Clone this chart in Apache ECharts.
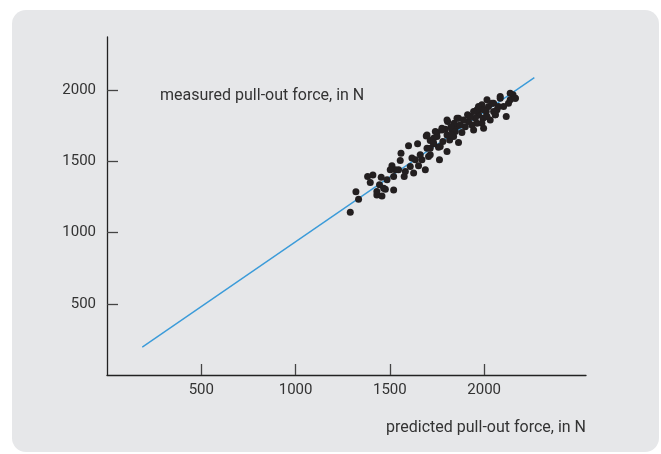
<!DOCTYPE html>
<html>
<head>
<meta charset="utf-8">
<script src="https://cdn.jsdelivr.net/npm/echarts@6/dist/echarts.min.js"></script>
<style>
  html, body { margin: 0; padding: 0; background: #fff; }
  #panel { position: absolute; left: 12px; top: 10px; width: 647px; height: 442px; background: #e6e7e9; border-radius: 14px; }
  #main { position: absolute; left: 0; top: 0; width: 661px; height: 454px; }
</style>
</head>
<body>
<div id="panel"></div>
<div id="main"></div>
<script>
// predicted vs measured pull-out force (N)
var predicted = [1290, 1334, 1320, 1382, 1410, 1396, 1454, 1445, 1431, 1458, 1476, 1520, 1520, 1511, 1555, 1559,
  1576, 1582, 1599, 1647, 1617, 1626, 1652, 1670, 1688, 1697, 1705, 1693, 1714, 1732, 1750, 1763, 1758, 1781,
  1794, 1806, 1817, 1829, 1838, 1856, 1864, 1864, 1882, 1900, 1917, 1926, 1944, 1962, 1970, 1979, 1994, 1997,
  2011, 2023, 2032, 2050, 2059, 2068, 2085, 2103, 2117, 2138, 2165, 2129, 1962, 1988, 1912, 1891, 1841, 1824,
  1803, 1776, 1732, 1714, 1661, 1635, 1608, 1546, 1529, 1502, 1467, 1431, 1485, 1803, 1750, 1847, 1935, 2015,
  2076, 2153, 1953, 1988, 2011, 2050,
  1697, 1741, 1776, 1803, 1856, 1873, 1926, 1944, 1970, 1997, 2041, 2085, 2138, 2165, 1732, 1767, 1829, 2015,
  2059, 1714];
var measured = [1143, 1234, 1286, 1393, 1403, 1351, 1388, 1335, 1264, 1257, 1304, 1299, 1393, 1468, 1505, 1557,
  1393, 1428, 1608, 1622, 1522, 1417, 1468, 1510, 1440, 1592, 1533, 1678, 1645, 1622, 1701, 1510, 1599, 1638,
  1725, 1779, 1650, 1720, 1673, 1748, 1802, 1631, 1701, 1743, 1779, 1814, 1720, 1767, 1826, 1865, 1802, 1732,
  1849, 1884, 1790, 1907, 1826, 1861, 1954, 1884, 1814, 1978, 1943, 1907, 1861, 1896, 1826, 1790, 1767, 1743,
  1685, 1720, 1662, 1592, 1545, 1510, 1463, 1440, 1440, 1440, 1311, 1288, 1370, 1568, 1673, 1708, 1755, 1931,
  1884, 1966, 1802, 1767, 1814, 1849,
  1685, 1708, 1732, 1790, 1802, 1755, 1814, 1849, 1884, 1861, 1907, 1943, 1931, 1943, 1627, 1603, 1685, 1814,
  1826, 1545];
var fitLine = [[187, 196], [2266, 2087]];
var tickValues = [500, 1000, 1500, 2000];

var points = predicted.map(function (x, i) {
  return [x, measured[i]]
});

var myChart = echarts.init(document.getElementById('main'));
var textColor = '#333';
var fontFamily = 'Roboto, "Noto Sans", sans-serif';
function plain(v) {
  return String(v)
}
var option = {
  animation: false,
  backgroundColor: 'transparent',
  grid: {
    left: 107,
    top: 37,
    width: 479,
    height: 338
  },
  xAxis: {
    type: 'value',
    min: 0,
    max: 2540,
    name: 'predicted pull-out force, in N',
    nameLocation: 'end',
    nameGap: 0,
    nameTextStyle: {
      color: textColor,
      fontSize: 16,
      fontFamily: fontFamily,
      align: 'right',
      verticalAlign: 'top',
      padding: [45, 0, 0, 0]
    },
    splitLine: { show: false },
    axisLine: {
      onZero: false,
      lineStyle: { color: '#222', width: 1.3 }
    },
    axisTick: {
      inside: true,
      length: 11,
      customValues: tickValues,
      lineStyle: { color: '#444', width: 1.3 }
    },
    axisLabel: {
      customValues: tickValues,
      formatter: plain,
      margin: 8,
      color: textColor,
      fontSize: 15,
      fontFamily: fontFamily
    }
  },
  yAxis: {
    type: 'value',
    min: 0,
    max: 2372,
    name: 'measured pull-out force, in N',
    nameLocation: 'end',
    nameGap: -59,
    nameTextStyle: {
      color: textColor,
      fontSize: 16,
      fontFamily: fontFamily,
      align: 'left',
      verticalAlign: 'middle',
      padding: [0, 0, 0, 53]
    },
    splitLine: { show: false },
    axisLine: {
      show: true,
      onZero: false,
      lineStyle: { color: '#222', width: 1.3 }
    },
    axisTick: {
      show: true,
      inside: true,
      length: 11,
      customValues: tickValues,
      lineStyle: { color: '#444', width: 1.3 }
    },
    axisLabel: {
      customValues: tickValues,
      formatter: plain,
      margin: 11,
      color: textColor,
      fontSize: 15,
      fontFamily: fontFamily
    }
  },
  series: [{
    type: 'line',
    data: fitLine,
    symbol: 'none',
    lineStyle: { color: '#3b9bd9', width: 1.4 },
    z: 2
  }, {
    type: 'scatter',
    data: points,
    symbolSize: 7,
    itemStyle: { color: '#231f20', opacity: 1 },
    z: 3
  }]
};
myChart.setOption(option);
</script>
</body>
</html>
